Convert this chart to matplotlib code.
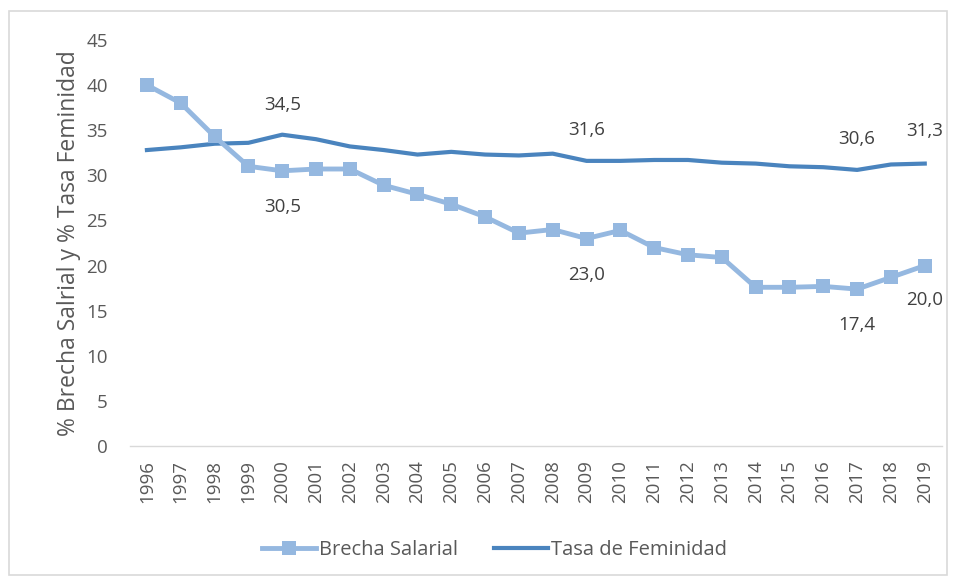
import matplotlib.pyplot as plt
from matplotlib.patches import Rectangle

years = [str(y) for y in range(1996, 2020)]
brecha = [40.0, 38.0, 34.3, 31.0, 30.5, 30.7, 30.7, 28.9, 27.9, 26.8, 25.4, 23.6,
          24.0, 23.0, 23.9, 22.0, 21.2, 20.9, 17.6, 17.6, 17.7, 17.4, 18.7, 20.0]
tasa = [32.8, 33.1, 33.5, 33.6, 34.5, 34.0, 33.2, 32.8, 32.3, 32.6, 32.3, 32.2,
        32.4, 31.6, 31.6, 31.7, 31.7, 31.4, 31.3, 31.0, 30.9, 30.6, 31.2, 31.3]

# value labels: index -> offset in px
lab_brecha = {4: -36, 13: -36, 21: -36, 23: -34}
lab_tasa = {4: 30, 13: 31, 21: 31, 23: 33}

plt.rcParams['font.family'] = ['Open Sans', 'DejaVu Sans']
txt = '#595959'
c_brecha = '#95B8E0'
c_tasa = '#4A84BE'

fig = plt.figure(figsize=(9.56, 5.78), dpi=100)
ax = fig.add_axes([0.136, 0.228, 0.849, 0.703])

x = list(range(len(years)))
ax.plot(x, brecha, color=c_brecha, lw=3.5, marker='s', markersize=10, mew=0,
        label='Brecha Salarial', zorder=3)
ax.plot(x, tasa, color=c_tasa, lw=3, label='Tasa de Feminidad', zorder=2)

def fmt(v):
    return f'{v:.1f}'.replace('.', ',')

for i, off in lab_brecha.items():
    ax.annotate(fmt(brecha[i]), (x[i], brecha[i]), xytext=(0, off * 0.72),
                textcoords='offset points', ha='center', va='center',
                fontsize=13.5, color='#404040')
for i, off in lab_tasa.items():
    ax.annotate(fmt(tasa[i]), (x[i], tasa[i]), xytext=(0, off * 0.72),
                textcoords='offset points', ha='center', va='center',
                fontsize=13.5, color='#404040')

ax.set_xlim(-0.5, len(years) - 0.5)
ax.set_ylim(0, 45)
ax.set_yticks(range(0, 50, 5))
ax.set_xticks(x)
ax.set_xticklabels(years, rotation=90)
ax.tick_params(axis='y', length=0, labelsize=13.5, labelcolor=txt, pad=16)
ax.tick_params(axis='x', length=0, labelsize=13.5, labelcolor=txt, pad=10)
for s in ['top', 'right', 'left']:
    ax.spines[s].set_visible(False)
ax.spines['bottom'].set_color('#D9D9D9')
ax.spines['bottom'].set_linewidth(1)

ax.set_ylabel('% Brecha Salrial y % Tasa Feminidad', fontsize=16.5, color=txt, labelpad=4)

fig.legend(loc='center', bbox_to_anchor=(0.517, 0.048), ncol=2, frameon=False,
           fontsize=14.5, labelcolor=txt, handlelength=2.7, handletextpad=0.12,
           columnspacing=1.8)

fig.patches.append(Rectangle((0.009, 0.006), 0.982, 0.975, transform=fig.transFigure,
                             fill=False, edgecolor='#D9D9D9', lw=1.2))

fig.savefig('out.png', dpi=100)
